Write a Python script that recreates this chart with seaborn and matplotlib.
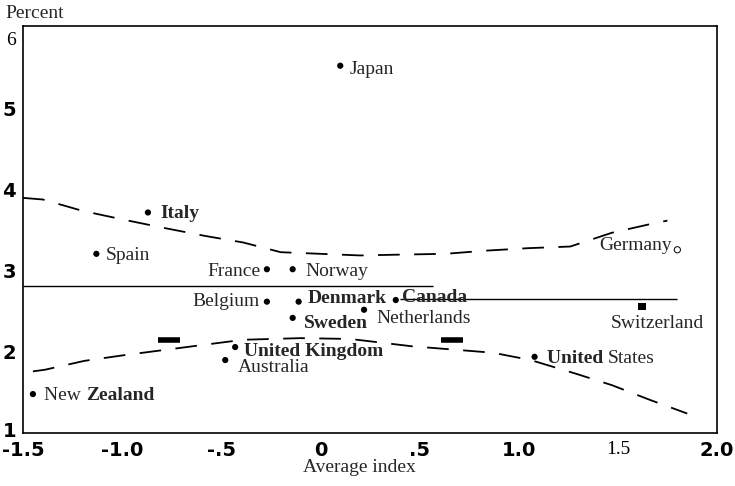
import matplotlib
matplotlib.use('Agg')
import matplotlib.pyplot as plt
import matplotlib.transforms as mtransforms
import seaborn as sns
import pandas as pd
import numpy as np

# country points
countries = ["Japan", "Italy", "Spain", "France", "Norway", "Belgium", "Denmark",
             "Canada", "Netherlands", "Sweden", "United Kingdom", "Australia",
             "New Zealand", "United States"]
avg_index = [0.10, -0.87, -1.13, -0.27, -0.14, -0.27, -0.11,
             0.38, 0.22, -0.14, -0.43, -0.48, -1.45, 1.08]
percent = [5.53, 3.72, 3.21, 3.02, 3.02, 2.62, 2.62,
           2.64, 2.52, 2.42, 2.06, 1.90, 1.48, 1.94]

swiss_x, swiss_y = [1.62], [2.56]
germany_x, germany_y = [1.80], [3.26]

# dashed band, upper and lower
upper_x = [-1.50, -1.40, -1.20, -0.99, -0.79, -0.58, -0.39, -0.20, 0.00, 0.20, 0.40,
           0.63, 0.84, 1.05, 1.26, 1.47, 1.67, 1.75]
upper_y = [3.90, 3.88, 3.74, 3.63, 3.53, 3.43, 3.35, 3.23, 3.21, 3.19, 3.20,
           3.21, 3.25, 3.28, 3.30, 3.47, 3.58, 3.62]
lower_x = [-1.45, -1.39, -1.19, -0.99, -0.58, -0.39, -0.10, 0.15, 0.46, 0.87,
           1.06, 1.29, 1.47, 1.66, 1.85]
lower_y = [1.76, 1.78, 1.89, 1.96, 2.09, 2.15, 2.17, 2.16, 2.07, 1.99,
           1.90, 1.73, 1.59, 1.41, 1.24]

# solid mean lines: (y, x start, x end)
mean_y = [2.81, 2.65]
mean_x0 = [-1.50, 0.40]
mean_x1 = [0.57, 1.80]

# short heavy bars
bar_y = [2.15, 2.15]
bar_x0 = [-0.82, 0.61]
bar_x1 = [-0.71, 0.72]

xticks = [-1.5, -1.0, -0.5, 0, 0.5, 1.0, 1.5, 2.0]
xticklabels = ["-1.5", "-1.0", "-.5", "0", ".5", "1.0", "1.5", "2.0"]
yticks = [1, 2, 3, 4, 5, 6]
yticklabels = ["1", "2", "3", "4", "5", "6"]

# label placement: offset in pixels from the dot, alignment, bold
label_pos = {
    "Japan": (9, -4, 'left', False),
    "Italy": (12, -1, 'left', True),
    "Spain": (9, -2, 'left', False),
    "France": (-6, -2, 'right', False),
    "Norway": (13, -2, 'left', False),
    "Belgium": (-7, 0, 'right', False),
    "Denmark": (9, 3, 'left', True),
    "Canada": (6, 3, 'left', True),
    "Netherlands": (12, -9, 'left', False),
    "Sweden": (11, -6, 'left', True),
    "United Kingdom": (9, -4, 'left', True),
    "Australia": (13, -7, 'left', False),
}

sns.set_theme(style='white')
plt.rcParams['font.family'] = ['Liberation Serif', 'DejaVu Serif']
serif = 'Liberation Serif'
fs = 14

fig = plt.figure(figsize=(7.35, 4.86), dpi=100)
ax = fig.add_axes([23 / 735, 1 - 433 / 486, 694 / 735, 407 / 486])

df = pd.DataFrame({'avg_index': avg_index, 'percent': percent, 'country': countries})
sns.scatterplot(data=df, x='avg_index', y='percent', color='black', s=20,
                edgecolor='none', ax=ax, zorder=3)
sns.scatterplot(x=swiss_x, y=swiss_y, marker='s', s=32, color='black',
                edgecolor='none', ax=ax, zorder=3)
ax.scatter(germany_x, germany_y, marker='o', s=20, facecolors='none',
           edgecolors='black', linewidths=0.7, zorder=3)

ax.plot(upper_x, upper_y, color='black', lw=1.3, linestyle=(0, (12, 8)))
ax.plot(lower_x, lower_y, color='black', lw=1.3, linestyle=(0, (12, 8)))
ax.hlines(mean_y, mean_x0, mean_x1, color='black', lw=1.0)
ax.hlines(bar_y, bar_x0, bar_x1, color='black', lw=4)

for c, x, y in zip(countries, avg_index, percent):
    if c in label_pos:
        dx, dy, ha, bold = label_pos[c]
        ax.annotate(c, (x, y), xytext=(dx, dy), textcoords='offset pixels',
                    ha=ha, va='center', fontsize=fs, family=serif,
                    fontweight='bold' if bold else 'normal')

# mixed-weight labels
nz = df[df.country == "New Zealand"].iloc[0]
t1 = ax.annotate("New ", (nz.avg_index, nz.percent), xytext=(11, -1),
                 textcoords='offset pixels', ha='left', va='center',
                 fontsize=fs, family=serif)
ax.annotate("Zealand", xy=(1, 0), xycoords=t1, ha='left', va='bottom',
            fontsize=fs, family=serif, fontweight='bold')
us = df[df.country == "United States"].iloc[0]
t2 = ax.annotate("United ", (us.avg_index, us.percent), xytext=(12, -2),
                 textcoords='offset pixels', ha='left', va='center',
                 fontsize=fs, family=serif, fontweight='bold')
ax.annotate("States", xy=(1, 0), xycoords=t2, ha='left', va='bottom',
            fontsize=fs, family=serif)
ax.annotate("Switzerland", (swiss_x[0], swiss_y[0]), xytext=(-31, -17),
            textcoords='offset pixels', ha='left', va='center', fontsize=fs, family=serif)
ax.annotate("Germany", (germany_x[0], germany_y[0]), xytext=(-5, 4),
            textcoords='offset pixels', ha='right', va='center', fontsize=fs, family=serif)

ax.set_xlim(-1.5, 2.0)
ax.set_ylim(1, 6.02)
ax.set_xticks(xticks)
ax.set_xticklabels(xticklabels)
ax.set_yticks(yticks)
ax.set_yticklabels(yticklabels)
ax.tick_params(axis='x', direction='inout', length=7, width=1, pad=2, colors='black')
ax.tick_params(axis='y', direction='in', length=8, width=1, pad=5, colors='black')
for lab in ax.get_xticklabels() + ax.get_yticklabels():
    if lab.get_text() in ("1.5", "6"):
        lab.set_family(serif)
        lab.set_fontweight('normal')
    else:
        lab.set_family('DejaVu Sans')
        lab.set_fontweight('bold')
    lab.set_fontsize(fs)
# the scan has "6" sitting a little below its tick and "1" a little above
for lab in ax.get_yticklabels():
    if lab.get_text() == "6":
        lab.set_transform(lab.get_transform() +
                          mtransforms.ScaledTranslation(0, -11 / 100, fig.dpi_scale_trans))
    if lab.get_text() == "1":
        lab.set_transform(lab.get_transform() +
                          mtransforms.ScaledTranslation(0, 4 / 100, fig.dpi_scale_trans))
ax.set_xlabel("")
ax.set_ylabel("")
for sp in ax.spines.values():
    sp.set_color('black')
    sp.set_linewidth(1.2)

fig.text(5 / 735, 1 - 14 / 486, "Percent", ha='left', va='center', fontsize=fs, family=serif)
fig.text(359 / 735, 1 - 468 / 486, "Average index", ha='center', va='center',
         fontsize=fs, family=serif)

fig.savefig('out.png', dpi=100)
